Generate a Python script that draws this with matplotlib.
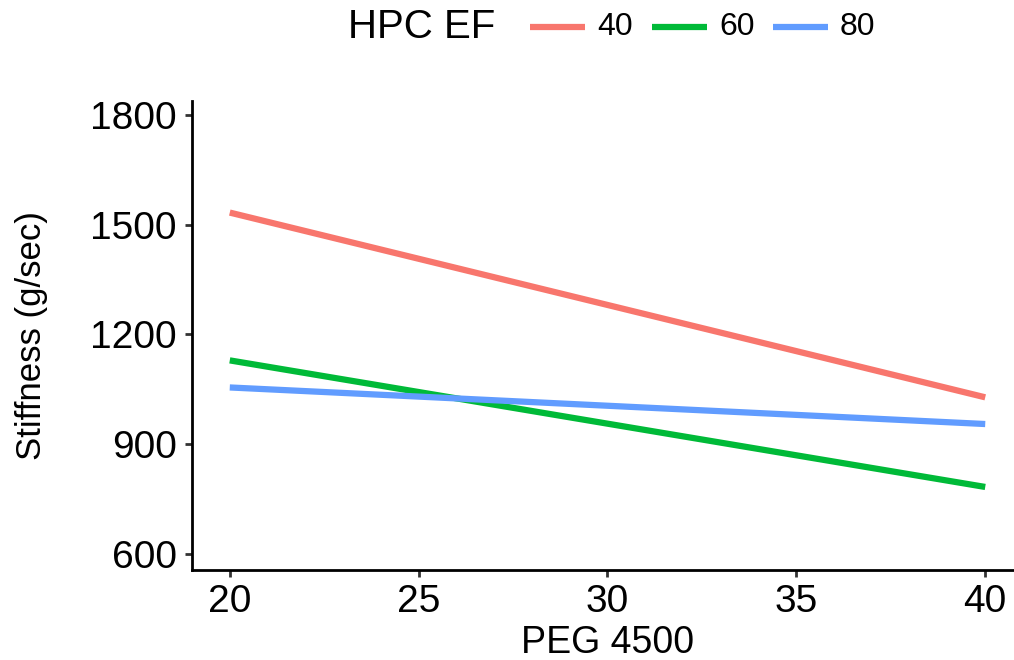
import matplotlib.pyplot as plt
from matplotlib.lines import Line2D

plt.rcParams['font.family'] = ['Liberation Sans', 'DejaVu Sans']

# data
peg = [20, 40]
groups = ['40', '60', '80']
stiffness = {
    '40': [1533, 1028],
    '60': [1129, 783],
    '80': [1055, 955],
}
colors = ['#F8766D', '#00BA38', '#619CFF']
xticks = [20, 25, 30, 35, 40]
yticks = [600, 900, 1200, 1500, 1800]

W, H = 1014, 660
fig = plt.figure(figsize=(W / 100, H / 100), dpi=100)
# axes runs past the right edge like the original
ax = fig.add_axes([192 / W, 90 / H, (1023 - 192) / W, (570 - 101) / H])

for g, c in zip(groups, colors):
    ax.plot(peg, stiffness[g], color=c, lw=4.5, solid_capstyle='butt')

ax.set_xlim(19, 41)
ax.set_ylim(556, 1838)
ax.set_xticks(xticks)
ax.set_yticks(yticks)
ax.tick_params(axis='both', length=5, width=2, color='#333333',
               labelsize=28, labelcolor='black', pad=6)
ax.tick_params(axis='x', pad=5)
for s in ['top', 'right']:
    ax.spines[s].set_visible(False)
for s in ['left', 'bottom']:
    ax.spines[s].set_linewidth(2)
    ax.spines[s].set_color('black')

ax.set_xlabel('PEG 4500', fontsize=27, va='baseline')
ax.xaxis.set_label_coords(608 / W, 1 - 653 / H, transform=fig.transFigure)
ax.set_ylabel('Stiffness (g/sec)', fontsize=25, va='center')
ax.yaxis.set_label_coords(32 / W, 1 - 336 / H, transform=fig.transFigure)

# legend along the top
ly = 1 - 27 / H
fig.text(348 / W, ly, 'HPC EF', fontsize=29, ha='left', va='center')
key_x = [530, 652, 773]
for g, c, kx in zip(groups, colors, key_x):
    fig.add_artist(Line2D([kx / W, (kx + 55) / W], [ly, ly], color=c, lw=4.5,
                          solid_capstyle='butt', transform=fig.transFigure))
    fig.text((kx + 67) / W, ly, g, fontsize=23, ha='left', va='center')

fig.savefig('out.png', dpi=100)
